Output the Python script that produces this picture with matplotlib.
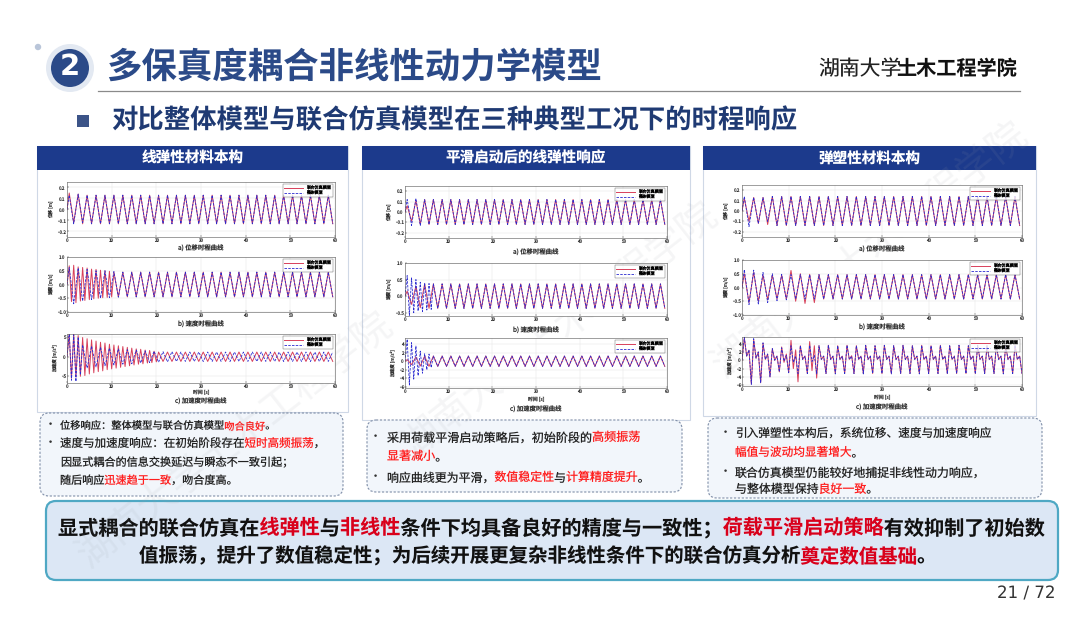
import numpy as np
import matplotlib.pyplot as plt
from matplotlib.patches import Rectangle, FancyBboxPatch, Circle

plt.rcParams['font.family'] = ['Noto Sans CJK SC', 'DejaVu Sans']
plt.rcParams['text.hinting'] = 'no_hinting'

W, H = 1080, 623

# ---------------- texts ----------------
TITLE = '多保真度耦合非线性动力学模型'
SUBTITLE = '对比整体模型与联合仿真模型在三种典型工况下的时程响应'
LOGO_SCRIPT = '湖南大学'
LOGO_TEXT = '土木工程学院'
HEADERS = ['线弹性材料本构', '平滑启动后的线弹性响应', '弹塑性材料本构']
CAPTIONS = ['a) 位移时程曲线', 'b) 速度时程曲线', 'c) 加速度时程曲线']
YLABELS = ['位移 [m]', '速度 [m/s]', '加速度 [m/s²]']
XLABEL = '时间 [s]'
LEGEND = ['联合仿真模型', '整体模型']
XTICKS = [0, 10, 20, 30, 40, 50, 60]
PAGE = '21 / 72'
WATERMARK = '湖南大学土木工程学院'

# bullet lines: (has_bullet, [(text, highlighted), ...])
NOTES_1 = [
    (True, [('位移响应：整体模型与联合仿真模型', False), ('吻合良好', True), ('。', False)]),
    (True, [('速度与加速度响应：在初始阶段存在', False), ('短时高频振荡', True), ('，', False)]),
    (False, [('因显式耦合的信息交换延迟与瞬态不一致引起；', False)]),
    (False, [('随后响应', False), ('迅速趋于一致', True), ('，吻合度高。', False)]),
]
NOTES_2 = [
    (True, [('采用荷载平滑启动策略后，初始阶段的', False), ('高频振荡', True)]),
    (False, [('显著减小', True), ('。', False)]),
    (True, [('响应曲线更为平滑，', False), ('数值稳定性', True), ('与', False),
            ('计算精度提升', True), ('。', False)]),
]
NOTES_3 = [
    (True, [('引入弹塑性本构后，系统位移、速度与加速度响应', False)]),
    (False, [('幅值与波动均显著增大', True), ('。', False)]),
    (True, [('联合仿真模型仍能较好地捕捉非线性动力响应，', False)]),
    (False, [('与整体模型保持', False), ('良好一致', True), ('。', False)]),
]
SUMMARY_1 = [('显式耦合的联合仿真在', False), ('线弹性', True), ('与', False), ('非线性', True),
             ('条件下均具备良好的精度与一致性；', False), ('荷载平滑启动策略', True),
             ('有效抑制了初始数', False)]
SUMMARY_2 = [('值振荡，提升了数值稳定性；为后续开展更复杂非线性条件下的联合仿真分析', False),
             ('奠定数值基础', True), ('。', False)]

# ---------------- response data ----------------
# EARLY: values every 0.5 s from t=0 ; SLOW: extrema every 1 s after that
P1A_SIM_EARLY = [0.0]
P1A_SIM_SLOW = [0.15, -0.12, 0.14, -0.13, 0.13, -0.13, 0.13, -0.13, 0.13, -0.13,
                0.13, -0.13, 0.13, -0.13, 0.13, -0.13, 0.13, -0.13, 0.13, -0.13,
                0.13, -0.13, 0.13, -0.13, 0.13, -0.13, 0.13, -0.13, 0.13, -0.13,
                0.13, -0.13, 0.13, -0.13, 0.13, -0.13, 0.13, -0.13, 0.13, -0.13,
                0.13, -0.13, 0.13, -0.13, 0.13, -0.13, 0.13, -0.13, 0.13, -0.13,
                0.13, -0.13, 0.13, -0.13, 0.13, -0.13, 0.13, -0.13, 0.13, -0.13]
P1A_WHL_EARLY = [0.0]
P1A_WHL_SLOW = [0.13, -0.13, 0.14, -0.12, 0.13, -0.13, 0.13, -0.13, 0.13, -0.13,
                0.13, -0.13, 0.13, -0.13, 0.13, -0.13, 0.13, -0.13, 0.13, -0.13,
                0.13, -0.13, 0.13, -0.13, 0.13, -0.13, 0.13, -0.13, 0.13, -0.13,
                0.13, -0.13, 0.13, -0.13, 0.13, -0.13, 0.13, -0.13, 0.13, -0.13,
                0.13, -0.13, 0.13, -0.13, 0.13, -0.13, 0.13, -0.13, 0.13, -0.13,
                0.13, -0.13, 0.13, -0.13, 0.13, -0.13, 0.13, -0.13, 0.13, -0.13]

P1B_SIM_EARLY = [0.0, 0.68, -0.62, 0.7, -0.66, 0.64, -0.6, 0.62, -0.58, 0.6, -0.55,
                 0.56, -0.52, 0.55, -0.5, 0.52, -0.48, 0.5, -0.47, 0.48, -0.45]
P1B_SIM_SLOW = [0.45, -0.45, 0.45, -0.45, 0.45, -0.45, 0.45, -0.45, 0.45, -0.45,
                0.45, -0.45, 0.45, -0.45, 0.45, -0.45, 0.45, -0.45, 0.45, -0.45,
                0.45, -0.45, 0.45, -0.45, 0.45, -0.45, 0.45, -0.45, 0.45, -0.45,
                0.45, -0.45, 0.45, -0.45, 0.45, -0.45, 0.45, -0.45, 0.45, -0.45,
                0.45, -0.45, 0.45, -0.45, 0.45, -0.45, 0.45, -0.45, 0.45, -0.45]
P1B_WHL_EARLY = [0.0]
P1B_WHL_SLOW = [0.62, -0.7, 0.6, -0.6, 0.55, -0.55, 0.5, -0.5, 0.5, -0.48,
                0.47, -0.46, 0.45, -0.45, 0.45, -0.45, 0.45, -0.45, 0.45, -0.45,
                0.45, -0.45, 0.45, -0.45, 0.45, -0.45, 0.45, -0.45, 0.45, -0.45,
                0.45, -0.45, 0.45, -0.45, 0.45, -0.45, 0.45, -0.45, 0.45, -0.45,
                0.45, -0.45, 0.45, -0.45, 0.45, -0.45, 0.45, -0.45, 0.45, -0.45,
                0.45, -0.45, 0.45, -0.45, 0.45, -0.45, 0.45, -0.45, 0.45, -0.45]

P1C_SIM_EARLY = [0.0, 5.8, -5.5, 5.9, -5.2, 5.4, -5.0, 4.9, -4.8, 4.6,
                 -4.4, 4.3, -4.1, 4.0, -3.8, 3.7, -3.6, 3.5, -3.3, 3.2,
                 -3.1, 3.0, -2.9, 2.8, -2.7, 2.6, -2.5, 2.4, -2.3, 2.2,
                 -2.1, 2.0, -1.9, 1.9, -1.8, 1.7, -1.6, 1.6, -1.5, 1.4, -1.3]
P1C_SIM_SLOW = [1.2, -1.2, 1.2, -1.2, 1.2, -1.2, 1.2, -1.2, 1.2, -1.2,
                1.2, -1.2, 1.2, -1.2, 1.2, -1.2, 1.2, -1.2, 1.2, -1.2,
                1.2, -1.2, 1.2, -1.2, 1.2, -1.2, 1.2, -1.2, 1.2, -1.2,
                1.2, -1.2, 1.2, -1.2, 1.2, -1.2, 1.2, -1.2, 1.2, -1.2]
P1C_WHL_EARLY = [0.0, 6.2, -6.0, 5.6, -6.3, 5.0, -4.6]
P1C_WHL_SLOW = [3.0, -2.9, 2.7, -2.6, 2.4, -2.3, 2.2, -2.1, 2.0, -1.9,
                1.8, -1.8, 1.7, -1.6, 1.5, -1.5, 1.4, -1.4, 1.3, -1.3,
                1.3, -1.2, 1.2, -1.2, 1.2, -1.2, 1.2, -1.2, 1.2, -1.2,
                1.2, -1.2, 1.2, -1.2, 1.2, -1.2, 1.2, -1.2, 1.2, -1.2,
                1.2, -1.2, 1.2, -1.2, 1.2, -1.2, 1.2, -1.2, 1.2, -1.2,
                1.2, -1.2, 1.2, -1.2, 1.2, -1.2, 1.2]

P2A_SIM_EARLY = [0.0]
P2A_SIM_SLOW = [0.06, -0.09, 0.11, -0.12, 0.12, -0.12, 0.12, -0.12, 0.12, -0.12,
                0.12, -0.12, 0.12, -0.12, 0.12, -0.12, 0.12, -0.12, 0.12, -0.12,
                0.12, -0.12, 0.12, -0.12, 0.12, -0.12, 0.12, -0.12, 0.12, -0.12,
                0.12, -0.12, 0.12, -0.12, 0.12, -0.12, 0.12, -0.12, 0.12, -0.12,
                0.12, -0.12, 0.12, -0.12, 0.12, -0.12, 0.12, -0.12, 0.12, -0.12,
                0.12, -0.12, 0.12, -0.12, 0.12, -0.12, 0.12, -0.12, 0.12, -0.12]
P2A_WHL_EARLY = [0.0]
P2A_WHL_SLOW = [0.12, -0.13, 0.13, -0.13, 0.12, -0.12, 0.12, -0.12, 0.12, -0.12,
                0.12, -0.12, 0.12, -0.12, 0.12, -0.12, 0.12, -0.12, 0.12, -0.12,
                0.12, -0.12, 0.12, -0.12, 0.12, -0.12, 0.12, -0.12, 0.12, -0.12,
                0.12, -0.12, 0.12, -0.12, 0.12, -0.12, 0.12, -0.12, 0.12, -0.12,
                0.12, -0.12, 0.12, -0.12, 0.12, -0.12, 0.12, -0.12, 0.12, -0.12,
                0.12, -0.12, 0.12, -0.12, 0.12, -0.12, 0.12, -0.12, 0.12, -0.12]

P2B_SIM_EARLY = [0.0]
P2B_SIM_SLOW = [0.15, -0.25, 0.3, -0.35, 0.37, -0.37, 0.37, -0.37, 0.37, -0.37,
                0.37, -0.37, 0.37, -0.37, 0.37, -0.37, 0.37, -0.37, 0.37, -0.37,
                0.37, -0.37, 0.37, -0.37, 0.37, -0.37, 0.37, -0.37, 0.37, -0.37,
                0.37, -0.37, 0.37, -0.37, 0.37, -0.37, 0.37, -0.37, 0.37, -0.37,
                0.37, -0.37, 0.37, -0.37, 0.37, -0.37, 0.37, -0.37, 0.37, -0.37,
                0.37, -0.37, 0.37, -0.37, 0.37, -0.37, 0.37, -0.37, 0.37, -0.37]
P2B_WHL_EARLY = [0.0, 0.62, -0.58, 0.55, -0.5, 0.5, -0.45, 0.42, -0.47, 0.4, -0.42, 0.38, -0.4]
P2B_WHL_SLOW = [0.37, -0.37, 0.37, -0.37, 0.37, -0.37, 0.37, -0.37, 0.37, -0.37,
                0.37, -0.37, 0.37, -0.37, 0.37, -0.37, 0.37, -0.37, 0.37, -0.37,
                0.37, -0.37, 0.37, -0.37, 0.37, -0.37, 0.37, -0.37, 0.37, -0.37,
                0.37, -0.37, 0.37, -0.37, 0.37, -0.37, 0.37, -0.37, 0.37, -0.37,
                0.37, -0.37, 0.37, -0.37, 0.37, -0.37, 0.37, -0.37, 0.37, -0.37,
                0.37, -0.37, 0.37, -0.37]

P2C_SIM_EARLY = [0.0]
P2C_SIM_SLOW = [0.4, -0.8, 1.0, -1.1, 1.2, -1.2, 1.25, -1.2, 1.25, -1.2,
                1.25, -1.2, 1.25, -1.2, 1.25, -1.2, 1.25, -1.2, 1.25, -1.2,
                1.25, -1.2, 1.25, -1.2, 1.25, -1.2, 1.25, -1.2, 1.25, -1.2,
                1.25, -1.2, 1.25, -1.2, 1.25, -1.2, 1.25, -1.2, 1.25, -1.2,
                1.25, -1.2, 1.25, -1.2, 1.25, -1.2, 1.25, -1.2, 1.25, -1.2,
                1.25, -1.2, 1.25, -1.2, 1.25, -1.2, 1.25, -1.2, 1.25, -1.2]
P2C_WHL_EARLY = [0.0, 5.2, -5.6, 4.4, -4.2, 3.6, -3.4, 2.4, -2.8, 1.8, -2.0, 1.7, -1.5]
P2C_WHL_SLOW = [1.25, -1.2, 1.25, -1.2, 1.25, -1.2, 1.25, -1.2, 1.25, -1.2,
                1.25, -1.2, 1.25, -1.2, 1.25, -1.2, 1.25, -1.2, 1.25, -1.2,
                1.25, -1.2, 1.25, -1.2, 1.25, -1.2, 1.25, -1.2, 1.25, -1.2,
                1.25, -1.2, 1.25, -1.2, 1.25, -1.2, 1.25, -1.2, 1.25, -1.2,
                1.25, -1.2, 1.25, -1.2, 1.25, -1.2, 1.25, -1.2, 1.25, -1.2,
                1.25, -1.2, 1.25, -1.2]

P3A_SIM_EARLY = [0.0]
P3A_SIM_SLOW = [0.12, -0.1, 0.13, -0.12, 0.13, -0.13, 0.14, -0.14, 0.14, -0.14,
                0.14, -0.14, 0.14, -0.14, 0.14, -0.14, 0.14, -0.14, 0.14, -0.14,
                0.14, -0.14, 0.14, -0.14, 0.14, -0.14, 0.14, -0.14, 0.14, -0.14,
                0.14, -0.14, 0.14, -0.14, 0.14, -0.14, 0.14, -0.14, 0.14, -0.14,
                0.14, -0.14, 0.14, -0.14, 0.14, -0.14, 0.14, -0.14, 0.14, -0.14,
                0.14, -0.14, 0.14, -0.14, 0.14, -0.14, 0.14, -0.14, 0.14, -0.14]
P3A_WHL_EARLY = [0.0]
P3A_WHL_SLOW = [0.14, -0.15, 0.13, -0.12, 0.13, -0.1, 0.14, -0.14, 0.14, -0.14,
                0.14, -0.14, 0.14, -0.14, 0.14, -0.14, 0.14, -0.14, 0.14, -0.14,
                0.14, -0.14, 0.14, -0.14, 0.14, -0.14, 0.14, -0.14, 0.14, -0.14,
                0.14, -0.14, 0.14, -0.14, 0.14, -0.14, 0.14, -0.14, 0.14, -0.14,
                0.14, -0.14, 0.14, -0.14, 0.14, -0.14, 0.14, -0.14, 0.14, -0.14,
                0.14, -0.14, 0.14, -0.14, 0.14, -0.14, 0.14, -0.14, 0.14, -0.14]

P3B_SIM_EARLY = [0.0]
P3B_SIM_SLOW = [0.5, -0.55, 0.55, -0.5, 0.45, -0.45, 0.45, -0.42, 0.45, -0.42,
                0.62, -0.5, 0.5, -0.58, 0.48, -0.55, 0.47, -0.42, 0.47, -0.42,
                0.47, -0.42, 0.47, -0.42, 0.47, -0.42, 0.47, -0.42, 0.47, -0.42,
                0.47, -0.42, 0.47, -0.42, 0.47, -0.42, 0.47, -0.42, 0.47, -0.42,
                0.47, -0.42, 0.47, -0.42, 0.47, -0.42, 0.47, -0.42, 0.47, -0.42,
                0.47, -0.42, 0.47, -0.42, 0.47, -0.42, 0.47, -0.42, 0.47, -0.42]
P3B_WHL_EARLY = [0.0]
P3B_WHL_SLOW = [0.65, -0.62, 0.63, -0.6, 0.55, -0.55, 0.5, -0.48, 0.48, -0.45,
                0.47, -0.42, 0.47, -0.42, 0.47, -0.42, 0.47, -0.42, 0.47, -0.42,
                0.47, -0.42, 0.47, -0.42, 0.47, -0.42, 0.47, -0.42, 0.47, -0.42,
                0.47, -0.42, 0.47, -0.42, 0.47, -0.42, 0.47, -0.42, 0.47, -0.42,
                0.47, -0.42, 0.47, -0.42, 0.47, -0.42, 0.47, -0.42, 0.47, -0.42,
                0.47, -0.42, 0.47, -0.42, 0.47, -0.42, 0.47, -0.42, 0.47, -0.42]

# elasto-plastic acceleration: jagged, every 0.5 s over the whole record
P3C_SIM_EARLY = [0.0,
                 5.4, 1.0, 2.4, -5.7, 5.0, 0.5, 2.0, -5.4, 4.1, 0.2, 1.5, -4.0,
                 2.8, 0.0, 1.0, -2.8, 3.2, -0.5, 1.5, -3.0, 4.8, -2.0, 2.5, -5.2,
                 3.5, 0.2, 1.0, -3.2, 4.5, -2.5, 3.5, -4.3, 3.5, 0.2, 1.0, -3.2,
                 3.6, 0.2, 1.0, -3.2, 3.5, 0.2, 1.0, -3.2, 3.6, 0.2, 1.1, -3.2,
                 3.5, 0.2, 1.0, -3.2, 3.6, 0.2, 1.0, -3.2, 3.5, 0.2, 1.0, -3.2,
                 3.6, 0.2, 1.0, -3.2, 3.5, 0.2, 1.0, -3.2, 3.6, 0.2, 1.0, -3.2,
                 3.5, 0.2, 1.0, -3.2, 3.6, 0.2, 1.0, -3.2, 3.5, 0.2, 1.0, -3.2,
                 3.6, 0.2, 1.0, -3.2, 3.5, 0.2, 1.0, -3.2, 3.6, 0.2, 1.0, -3.2,
                 3.5, 0.2, 1.0, -3.2, 3.6, 0.2, 1.0, -3.2, 3.5, 0.2, 1.0, -3.2,
                 3.6, 0.2, 1.0, -3.2, 3.5, 0.2, 1.0, -3.2, 3.6, 0.2, 1.0, -3.2]
P3C_SIM_SLOW = []
P3C_WHL_EARLY = [0.0,
                 5.5, 1.0, 2.5, -5.8, 5.2, 0.5, 2.0, -5.5, 4.2, 0.2, 1.5, -4.0,
                 2.8, 0.0, 1.0, -2.8, 3.0, -0.2, 1.2, -3.0, 3.5, -0.5, 1.0, -3.2,
                 3.5, 0.2, 1.0, -3.2, 3.6, -0.3, 1.2, -3.3, 3.5, 0.2, 1.0, -3.2,
                 3.6, 0.2, 1.0, -3.3, 3.5, 0.2, 1.0, -3.2, 3.6, 0.2, 1.0, -3.2,
                 3.5, 0.2, 1.0, -3.3, 3.6, 0.2, 1.0, -3.2, 3.5, 0.2, 1.0, -3.2,
                 3.6, 0.2, 1.0, -3.3, 3.5, 0.2, 1.0, -3.2, 3.6, 0.2, 1.0, -3.2,
                 3.5, 0.2, 1.0, -3.3, 3.6, 0.2, 1.0, -3.2, 3.5, 0.2, 1.0, -3.2,
                 3.6, 0.2, 1.0, -3.3, 3.5, 0.2, 1.0, -3.2, 3.6, 0.2, 1.0, -3.2,
                 3.5, 0.2, 1.0, -3.3, 3.6, 0.2, 1.0, -3.2, 3.5, 0.2, 1.0, -3.2,
                 3.6, 0.2, 1.0, -3.3, 3.5, 0.2, 1.0, -3.2, 3.6, 0.2, 1.0, -3.2]
P3C_WHL_SLOW = []

# ---------------- colours ----------------
NAVY = '#2b4a88'
BAR = '#1c3a8c'
RED = '#ff1f1f'
DARKRED = '#d9001b'
SIM_COLOR = '#d8405a'
WHL_COLOR = '#2a2ad0'
IDEO_SPACE = '\u3000'


def build(early, slow):
    t_e = np.arange(len(early)) * 0.5
    t0 = np.floor(t_e[-1]) + 0.5
    if t0 <= t_e[-1]:
        t0 += 1.0
    t_s = t0 + np.arange(len(slow))
    return np.concatenate([t_e, t_s]), np.concatenate([early, np.array(slow, float)])


def px_axes(fig, x0, y0, x1, y1):
    return fig.add_axes([x0 / W, 1 - y1 / H, (x1 - x0) / W, (y1 - y0) / H])


def draw_segments(ax, x, y, segs, size, weight, base, hot):
    # two full-width copies of the line, the other colour blanked with ideographic spaces,
    # so both copies share one layout
    em = size * 100 / 72
    plain = ''.join(IDEO_SPACE * len(t) if red else t for t, red in segs)
    marked = ''.join(t if red else IDEO_SPACE * len(t) for t, red in segs)
    for s, c in ((plain, base), (marked, hot)):
        if s.strip(IDEO_SPACE):
            ax.text(x, y + 0.36 * em, s, fontsize=size, fontweight=weight,
                    color=c, ha='left', va='baseline')


def main():
    fig = plt.figure(figsize=(W / 100, H / 100), dpi=100)
    fig.patch.set_facecolor('white')
    bg = fig.add_axes([0, 0, 1, 1])
    bg.set_xlim(0, W)
    bg.set_ylim(H, 0)
    bg.axis('off')

    # title block
    bg.add_patch(Circle((38, 47), 3.2, color='#b9c5d9', lw=0))
    bg.add_patch(Circle((70, 68), 24, color='#e3e9f2', lw=0))
    bg.add_patch(Circle((70, 68), 19, color=NAVY, lw=0))
    bg.text(70, 67, '2', color='white', fontsize=21, fontweight='bold',
            ha='center', va='center', family='DejaVu Sans')
    bg.text(106, 67, TITLE, color=NAVY, fontsize=25.5, fontweight='bold', ha='left', va='center')
    bg.plot([98, 1020], [91, 91], color='#8a8a8a', lw=0.9)
    bg.text(818, 69, LOGO_SCRIPT, color='#222222', fontsize=15, style='italic',
            ha='left', va='center')
    bg.text(1017, 69, LOGO_TEXT, color='#111111', fontsize=14.5, fontweight='bold',
            ha='right', va='center')
    bg.add_patch(Rectangle((77, 115), 12, 12, color='#3c5488', lw=0))
    bg.text(111, 121, SUBTITLE, color='#1f3a73', fontsize=19, fontweight='bold',
            ha='left', va='center')

    # three panels
    panels = [(37, 348), (362, 690), (703, 1036)]
    panel_bottom = [412, 420, 416]
    for (x0, x1), yb, head in zip(panels, panel_bottom, HEADERS):
        bg.add_patch(Rectangle((x0, 146), x1 - x0, yb - 146, fill=False,
                               ec='#cfd8e6', lw=0.8))
        bg.add_patch(Rectangle((x0, 146), x1 - x0, 24, color=BAR, lw=0))
        bg.text((x0 + x1) / 2, 158, head, color='white', fontsize=10.5,
                fontweight='bold', ha='center', va='center')

    # plot grid: x range and rows (top, bottom, caption y), xlabel y
    plot_x = [(67, 335), (405, 667), (742, 1022)]
    rows = [
        [(182, 237, 249), (257, 312, 325), (334, 383, 402)],
        [(186, 238, 253), (263, 316, 331), (338, 388, 410)],
        [(185, 237, 250), (260, 315, 328), (337, 386, 408)],
    ]
    xlabel_y = [393, 400, 398]
    ylims = [
        [(-0.25, 0.25), (-1.0, 1.0), (-6.7, 5.8)],
        [(-0.25, 0.25), (-0.6, 1.0), (-6.3, 5.5)],
        [(-0.25, 0.25), (-1.0, 1.0), (-6.2, 5.6)],
    ]
    yticks = [
        [[-0.2, -0.1, 0, 0.1, 0.2], [-1, -0.5, 0, 0.5, 1], [-5, 0, 5]],
        [[-0.2, -0.1, 0, 0.1, 0.2], [-0.5, 0, 0.5, 1], [-6, -4, -2, 0, 2, 4]],
        [[-0.2, -0.1, 0, 0.1, 0.2], [-1, -0.5, 0, 0.5, 1], [-6, -4, -2, 0, 2, 4]],
    ]
    data = [
        [(P1A_SIM_EARLY, P1A_SIM_SLOW, P1A_WHL_EARLY, P1A_WHL_SLOW),
         (P1B_SIM_EARLY, P1B_SIM_SLOW, P1B_WHL_EARLY, P1B_WHL_SLOW),
         (P1C_SIM_EARLY, P1C_SIM_SLOW, P1C_WHL_EARLY, P1C_WHL_SLOW)],
        [(P2A_SIM_EARLY, P2A_SIM_SLOW, P2A_WHL_EARLY, P2A_WHL_SLOW),
         (P2B_SIM_EARLY, P2B_SIM_SLOW, P2B_WHL_EARLY, P2B_WHL_SLOW),
         (P2C_SIM_EARLY, P2C_SIM_SLOW, P2C_WHL_EARLY, P2C_WHL_SLOW)],
        [(P3A_SIM_EARLY, P3A_SIM_SLOW, P3A_WHL_EARLY, P3A_WHL_SLOW),
         (P3B_SIM_EARLY, P3B_SIM_SLOW, P3B_WHL_EARLY, P3B_WHL_SLOW),
         (P3C_SIM_EARLY, P3C_SIM_SLOW, P3C_WHL_EARLY, P3C_WHL_SLOW)],
    ]

    for p in range(3):
        x0, x1 = plot_x[p]
        for r in range(3):
            y0, y1, cap_y = rows[p][r]
            ax = px_axes(fig, x0, y0, x1, y1)
            se, ss, we, ws = data[p][r]
            ts, vs = build(se, ss)
            tw, vw = build(we, ws)
            ax.plot(ts, vs, color=SIM_COLOR, lw=0.7, label=LEGEND[0])
            ax.plot(tw, vw, color=WHL_COLOR, lw=0.6, ls=(0, (3, 1.5)), label=LEGEND[1])
            ax.set_xlim(0, 60)
            ax.set_ylim(*ylims[p][r])
            ax.set_xticks(XTICKS)
            ax.set_yticks(yticks[p][r])
            ax.grid(True, color='#e2e2e2', lw=0.3)
            ax.tick_params(labelsize=3.3, length=1.2, width=0.3, pad=1,
                           direction='in', colors='#333333')
            for s in ax.spines.values():
                s.set_linewidth(0.4)
                s.set_color('#555555')
            ax.set_ylabel(YLABELS[r], fontsize=3.3, labelpad=1.5, color='#333333')
            leg = ax.legend(loc='upper right', fontsize=3.0, frameon=True,
                            handlelength=4.5, borderpad=0.35, labelspacing=0.15,
                            fancybox=False, borderaxespad=0.5)
            leg.get_frame().set_linewidth(0.3)
            leg.get_frame().set_edgecolor('#333333')
            bg.text((x0 + x1) / 2, cap_y, CAPTIONS[r], fontsize=4.6, color='#333333',
                    ha='center', va='center')
        bg.text((x0 + x1) / 2, xlabel_y[p], XLABEL, fontsize=3.5, color='#333333',
                ha='center', va='center')

    # note boxes
    boxes = [(40, 413, 343, 496), (367, 420, 682, 492), (708, 418, 1042, 498)]
    notes = [NOTES_1, NOTES_2, NOTES_3]
    line_y = [[425, 443, 462, 480], [437, 456, 477], [433, 452, 472, 489]]
    line_size = [[7.4, 8.3, 8.0, 8.0], [8.7, 8.7, 8.6], [8.4, 8.4, 8.6, 8.6]]
    bullet_x = [50, 375, 725]
    text_x = [60, 387, 735]
    for b, nt, ly, ls, bx, tx in zip(boxes, notes, line_y, line_size, bullet_x, text_x):
        bg.add_patch(FancyBboxPatch((b[0], b[1]), b[2] - b[0], b[3] - b[1],
                                    boxstyle='round,pad=0,rounding_size=9',
                                    fc='#f2f6fb', ec='#7f8ea8', lw=0.8,
                                    ls=(0, (2, 1.5))))
        for (has_bullet, segs), y, sz in zip(nt, ly, ls):
            if has_bullet:
                bg.text(bx, y, '•', fontsize=8, color='#333333', ha='center', va='center')
            draw_segments(bg, tx, y, segs, sz, 'normal', '#222222', RED)

    # summary box
    bg.add_patch(FancyBboxPatch((46, 501), 1012, 79,
                                boxstyle='round,pad=0,rounding_size=10',
                                fc='#dce7f5', ec='#4fa8c4', lw=1.6))
    draw_segments(bg, 58, 527, SUMMARY_1, 14.5, 'bold', '#111111', DARKRED)
    draw_segments(bg, 139, 556, SUMMARY_2, 14.0, 'bold', '#111111', DARKRED)

    bg.text(1055, 594, PAGE, fontsize=12, color='#333333', ha='right', va='center',
            family='DejaVu Sans')

    # faint diagonal watermark
    for cx, cy in [(235, 440), (560, 330), (870, 250)]:
        bg.text(cx, cy, WATERMARK, fontsize=28, color='#9aa0a8', alpha=0.10,
                rotation=38, ha='center', va='center', zorder=10)

    fig.savefig('out.png', dpi=100)


if __name__ == '__main__':
    main()
